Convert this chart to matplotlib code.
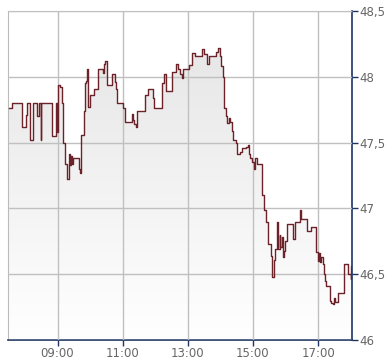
import matplotlib
matplotlib.use('Agg')
import matplotlib.pyplot as plt
import numpy as np
from matplotlib.ticker import FuncFormatter

# intraday trades
times = ['07:30', '07:37', '07:55', '08:02', '08:04', '08:09', '08:15', '08:23',
         '08:25', '08:29', '08:30', '08:50', '08:57', '08:59', '09:01', '09:05',
         '09:08', '09:11', '09:14', '09:17', '09:18', '09:21', '09:23', '09:25',
         '09:27', '09:29', '09:39', '09:41', '09:43', '09:49', '09:51', '09:52',
         '09:55', '09:56', '09:57', '10:00', '10:08', '10:15', '10:24', '10:26',
         '10:28', '10:32', '10:41', '10:45', '10:48', '10:50', '11:00', '11:04',
         '11:18', '11:19', '11:21', '11:24', '11:26', '11:42', '11:46', '11:55',
         '11:58', '12:13', '12:16', '12:17', '12:20', '12:31', '12:38', '12:41',
         '12:46', '12:50', '12:52', '13:03', '13:08', '13:14', '13:27', '13:30',
         '13:35', '13:39', '13:52', '13:56', '13:59', '14:01', '14:04', '14:07',
         '14:10', '14:12', '14:15', '14:18', '14:21', '14:23', '14:28', '14:30',
         '14:36', '14:40', '14:47', '14:50', '14:52', '14:55', '14:58', '15:01',
         '15:03', '15:08', '15:16', '15:17', '15:20', '15:24', '15:27', '15:28',
         '15:33', '15:35', '15:38', '15:41', '15:45', '15:46', '15:49', '15:50',
         '15:53', '15:55', '15:57', '15:59', '16:02', '16:13', '16:18', '16:26',
         '16:28', '16:40', '16:47', '16:56', '16:59', '17:01', '17:04', '17:06',
         '17:09', '17:10', '17:12', '17:14', '17:21', '17:23', '17:27', '17:30',
         '17:32', '17:37', '17:47', '17:55', '18:00', '18:01', '18:02']
prices = [47.76, 47.80, 47.62, 47.71, 47.80, 47.52, 47.80, 47.70,
          47.80, 47.52, 47.80, 47.55, 47.80, 47.58, 47.94, 47.92,
          47.80, 47.50, 47.34, 47.28, 47.22, 47.41, 47.33, 47.40,
          47.34, 47.38, 47.30, 47.27, 47.56, 47.74, 47.95, 47.97,
          48.06, 47.79, 47.77, 47.86, 47.91, 48.06, 48.03, 48.10,
          48.12, 47.94, 48.02, 47.96, 47.91, 47.80, 47.76, 47.66,
          47.72, 47.67, 47.64, 47.62, 47.74, 47.86, 47.91, 47.84,
          47.76, 47.95, 48.00, 48.02, 47.89, 48.04, 48.10, 48.06,
          48.02, 47.99, 48.06, 48.09, 48.18, 48.155, 48.21, 48.17,
          48.10, 48.155, 48.19, 48.22, 48.16, 48.08, 48.00, 47.76,
          47.70, 47.65, 47.69, 47.66, 47.59, 47.52, 47.50, 47.41,
          47.43, 47.46, 47.47, 47.48, 47.41, 47.38, 47.35, 47.30,
          47.38, 47.34, 47.30, 47.10, 46.99, 46.90, 46.85, 46.73,
          46.64, 46.48, 46.61, 46.69, 46.90, 46.69, 46.80, 46.71,
          46.78, 46.63, 46.68, 46.75, 46.88, 46.77, 46.90, 46.985,
          46.92, 46.83, 46.86, 46.67, 46.60, 46.66, 46.59, 46.63,
          46.58, 46.50, 46.45, 46.41, 46.30, 46.28, 46.27, 46.32,
          46.285, 46.36, 46.58, 46.505, 46.46, 46.56, 46.56]

x_ticks = ['09:00', '11:00', '13:00', '15:00', '17:00']
y_ticks = [46, 46.5, 47, 47.5, 48, 48.5]


def to_hours(s):
    h, m = s.split(':')
    return int(h) + int(m) / 60


x = np.array([to_hours(t) for t in times])
y = np.array(prices)

fig = plt.figure(figsize=(3.9, 3.64), dpi=100)
ax = fig.add_axes([8 / 390, 24 / 364, 344 / 390, 329 / 364])
ax.set_xlim(7.48, 18.04)
ax.set_ylim(46, 48.5)

# gradient fill under the line, clipped to the area below the steps
poly = ax.fill_between(x, y, 46, step='post', color='none', lw=0)
grad = np.linspace(1, 0, 256).reshape(-1, 1)
cmap = matplotlib.colors.LinearSegmentedColormap.from_list(
    'g', ['#ffffff', '#e4e4e4'])
img = ax.imshow(grad, cmap=cmap, aspect='auto',
                extent=[7.48, 18.04, 46, 48.5], zorder=1)
img.set_clip_path(poly.get_paths()[0], transform=ax.transData)

ax.plot(x, y, drawstyle='steps-post', color='#6b2228', lw=1.0, zorder=3)

ax.grid(True, color='#c0c0c0', lw=1, zorder=2)
ax.set_axisbelow(False)
ax.set_xticks([to_hours(t) for t in x_ticks])
ax.set_xticklabels(x_ticks)
ax.set_yticks(y_ticks)
ax.yaxis.set_major_formatter(FuncFormatter(
    lambda v, p: ('%g' % v).replace('.', ',')))
ax.yaxis.tick_right()

navy = '#1c3462'
for side in ['left', 'top']:
    ax.spines[side].set_color('#bbbbbb')
for side in ['right', 'bottom']:
    ax.spines[side].set_color(navy)
    ax.spines[side].set_linewidth(1.2)
ax.tick_params(axis='both', direction='out', length=4, width=1, color=navy,
               labelcolor='#666666', labelsize=8.5, pad=1)

fig.savefig('out.png', dpi=100)
